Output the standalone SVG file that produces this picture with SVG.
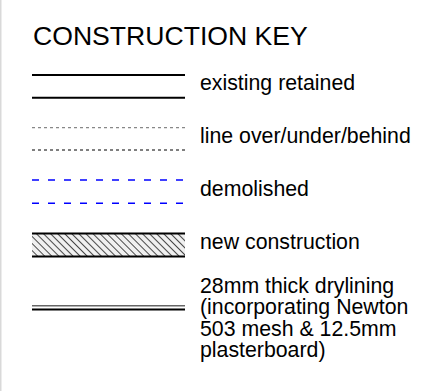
<svg xmlns="http://www.w3.org/2000/svg" width="438" height="391" viewBox="0 0 438 391">
<style>
text{font-family:"Liberation Sans",Arial,Helvetica,sans-serif;fill:#000}
.title{font-size:26.6px}
.lbl{font-size:21.3px}
.solid{stroke:#000;stroke-width:2;fill:none}
.dotg{stroke:#888;stroke-width:1.2;stroke-dasharray:3 3;fill:none}
.dotk{stroke:#000;stroke-width:1.2;stroke-dasharray:3 3;fill:none}
.demo{stroke:#0000ff;stroke-width:1.5;stroke-dasharray:7 9;fill:none}
</style>
<defs>
<pattern id="hatch" patternUnits="userSpaceOnUse" width="5" height="5" patternTransform="rotate(-45)">
<rect width="5" height="5" fill="#f0f0f0"/>
<line x1="0" y1="0" x2="0" y2="5" stroke="#000" stroke-width="1.4"/>
</pattern>
</defs>
<rect x="0" y="0" width="438" height="391" fill="#fff"/>
<line x1="0.75" y1="0" x2="0.75" y2="391" stroke="#d9d9d9" stroke-width="1.5"/>
<g id="title"><text class="title" x="33" y="45">CONSTRUCTION KEY</text></g>
<g id="existing">
<line class="solid" x1="32" y1="75" x2="185" y2="75"/>
<line class="solid" x1="32" y1="97.7" x2="185" y2="97.7"/>
<text class="lbl" x="200" y="90">existing retained</text>
</g>
<g id="line-over">
<line class="dotg" x1="32" y1="127.7" x2="185" y2="127.7"/>
<line class="dotk" x1="32" y1="150" x2="185" y2="150"/>
<text class="lbl" x="200" y="143">line over/under/behind</text>
</g>
<g id="demolished">
<line class="demo" x1="32" y1="180" x2="185" y2="180"/>
<line class="demo" x1="32" y1="203.3" x2="185" y2="203.3"/>
<text class="lbl" x="200" y="196">demolished</text>
</g>
<g id="new-construction">
<rect x="32" y="233.5" width="153" height="23" fill="url(#hatch)"/>
<line class="solid" x1="32" y1="233.5" x2="185" y2="233.5"/>
<line class="solid" x1="32" y1="256.5" x2="185" y2="256.5"/>
<text class="lbl" x="200" y="249">new construction</text>
</g>
<g id="drylining">
<line x1="32" y1="305.7" x2="185" y2="305.7" stroke="#666" stroke-width="1.6"/>
<line x1="32" y1="309.5" x2="185" y2="309.5" stroke="#000" stroke-width="2"/>
<text class="lbl"><tspan x="200" y="292.7">28mm thick drylining</tspan><tspan x="200" y="314">(incorporating Newton</tspan><tspan x="200" y="335.5">503 mesh &amp; 12.5mm</tspan><tspan x="200" y="357">plasterboard)</tspan></text>
</g>
</svg>
